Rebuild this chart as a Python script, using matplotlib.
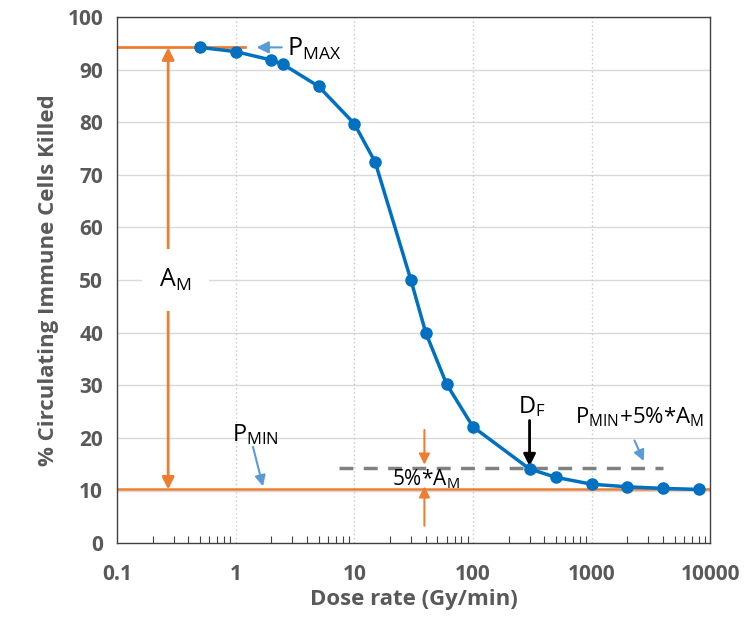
import numpy as np
import matplotlib
matplotlib.use("Agg")
import matplotlib.pyplot as plt
from matplotlib.ticker import LogLocator, FixedLocator, NullFormatter

plt.rcParams['font.family'] = ['Open Sans', 'DejaVu Sans']
plt.rcParams['mathtext.fontset'] = 'custom'
plt.rcParams['mathtext.rm'] = 'Open Sans'
plt.rcParams['mathtext.it'] = 'Open Sans'

# data
dose = [0.5, 1, 2, 2.5, 5, 10, 15, 30, 40, 60, 100, 300, 500, 1000, 2000, 4000, 8000]
killed = [94.2, 93.4, 91.8, 91.0, 86.8, 79.7, 72.4, 50.0, 40.0, 30.2, 22.1, 14.1,
          12.5, 11.2, 10.7, 10.4, 10.2]
p_max = 94.2
p_min = 10.2
thresh = 14.3
d_f = 300
x_ticks = [0.1, 1, 10, 100, 1000, 10000]
x_labels = ["0.1", "1", "10", "100", "1000", "10000"]
y_ticks = list(range(0, 101, 10))

ORANGE = "#ED7D31"
BLUE = "#0070C0"
LBLUE = "#5B9BD5"
GRAY = "#595959"

fig = plt.figure(figsize=(7.5, 6.25), dpi=100)
ax = fig.add_axes([0.156, 0.131, 0.791, 0.842])

ax.set_xscale("log")
ax.set_xlim(0.1, 10000)
ax.set_ylim(0, 100)

# grid
for y in y_ticks[1:]:
    ax.axhline(y, color="#d9d9d9", lw=1, zorder=0)
for x in x_ticks[1:-1]:
    ax.axvline(x, color="#c8c8c8", lw=1, ls=(0, (1, 2)), zorder=0)

# reference lines
ax.plot([0.1, 1.2], [p_max, p_max], color=ORANGE, lw=2, zorder=2)
ax.axhline(p_min, color=ORANGE, lw=1.8, zorder=2)
ax.plot([7.5, 4000], [thresh, thresh], color="#808080", lw=2.5, ls=(0, (4, 3)), zorder=2)

# data
ax.plot(dose, killed, color=BLUE, lw=2.5, marker="o", ms=8, zorder=4)

arrow = dict(shrinkA=0, shrinkB=0)

# A_M double arrow
ax.annotate("", xy=(0.27, p_max), xytext=(0.27, 50),
            arrowprops=dict(arrowstyle="-|>", color=ORANGE, lw=2, mutation_scale=18, **arrow))
ax.annotate("", xy=(0.27, p_min), xytext=(0.27, 50),
            arrowprops=dict(arrowstyle="-|>", color=ORANGE, lw=2, mutation_scale=18, **arrow))
ax.text(0.31, 50, r"A$_{\rm M}$", fontsize=18, ha="center", va="center", color="black",
        bbox=dict(boxstyle="square,pad=0.7", fc="white", ec="none"), zorder=5)

# P_MAX
ax.annotate("", xy=(1.5, 94.2), xytext=(2.45, 94.2),
            arrowprops=dict(arrowstyle="-|>", color=LBLUE, lw=1.5, mutation_scale=18, **arrow))
ax.text(2.7, 94.0, r"P$_{\rm MAX}$", fontsize=18, ha="left", va="center")

# P_MIN
ax.text(0.93, 20.6, r"P$_{\rm MIN}$", fontsize=17, ha="left", va="center")
ax.annotate("", xy=(1.7, p_min + 0.6), xytext=(1.4, 18.3),
            arrowprops=dict(arrowstyle="-|>", color=LBLUE, lw=1.5, mutation_scale=16, **arrow))

# 5% * A_M
ax.annotate("", xy=(39, thresh + 0.6), xytext=(39, 21.5),
            arrowprops=dict(arrowstyle="-|>", color=ORANGE, lw=1.5, mutation_scale=16, **arrow))
ax.annotate("", xy=(39, p_min + 0.6), xytext=(39, 3.3),
            arrowprops=dict(arrowstyle="-|>", color=ORANGE, lw=1.5, mutation_scale=16, **arrow))
ax.text(40, 12.2, r"5%*A$_{\rm M}$", fontsize=15, ha="center", va="center")

# D_F
ax.annotate("", xy=(d_f, thresh + 0.3), xytext=(d_f, 23.3),
            arrowprops=dict(arrowstyle="-|>", color="black", lw=2, mutation_scale=18, **arrow))
ax.text(d_f * 1.05, 26.0, r"D$_{\rm F}$", fontsize=17, ha="center", va="center")

# P_MIN + 5% A_M
ax.text(2550, 24.0, r"P$_{\rm MIN}$+5%*A$_{\rm M}$", fontsize=16, ha="center", va="center")
ax.annotate("", xy=(2750, thresh + 1.3), xytext=(2300, 19.5),
            arrowprops=dict(arrowstyle="-|>", color=LBLUE, lw=1.5, mutation_scale=16, **arrow))

# axes styling
ax.xaxis.set_major_locator(FixedLocator(x_ticks))
ax.set_xticklabels(x_labels)
ax.xaxis.set_minor_locator(LogLocator(base=10, subs=np.arange(2, 10)))
ax.xaxis.set_minor_formatter(NullFormatter())
ax.tick_params(axis="x", which="major", length=0, pad=15, labelsize=15, labelcolor=GRAY)
ax.tick_params(axis="x", which="minor", direction="in", length=5, width=0.8, color="#404040")
ax.set_yticks(y_ticks)
ax.tick_params(axis="y", length=0, pad=10, labelsize=15, labelcolor=GRAY)
for lab in ax.get_xticklabels() + ax.get_yticklabels():
    lab.set_fontweight("bold")
for s in ax.spines.values():
    s.set_color("#404040")
    s.set_linewidth(1)

ax.set_xlabel("Dose rate (Gy/min)", fontsize=16, fontweight="bold", color=GRAY, labelpad=3)
ax.set_ylabel("% Circulating Immune Cells Killed", fontsize=16, fontweight="bold", color=GRAY, labelpad=6)

fig.savefig("out.png", dpi=100)
